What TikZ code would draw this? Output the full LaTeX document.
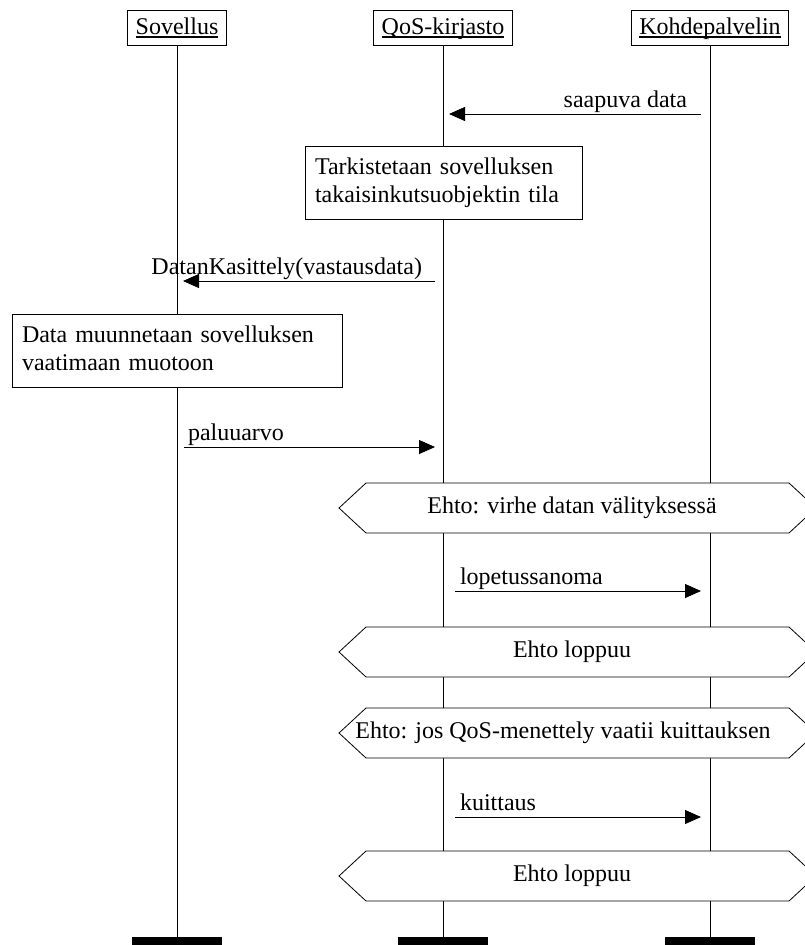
\documentclass[tikz,border=0pt]{standalone}
\usepackage{fontspec}
\setmainfont{Liberation Serif}
\usetikzlibrary{arrows.meta}
% underlined lifeline title with a heavier rule
\newcommand{\hdrtext}[1]{\leavevmode\setbox0\hbox{#1}\rlap{\vrule height -2pt depth 3.6pt width \wd0}\box0}
\begin{document}
\begin{tikzpicture}[x=1pt,y=-1pt,
  font=\fontsize{24}{28}\selectfont,
  every node/.style={inner sep=0pt, outer sep=0pt},
  hdr/.style={draw, fill=white, line width=0.8pt, minimum height=35pt,
    inner xsep=8pt, text height=18pt, text depth=5pt},
  lifeline/.style={line width=0.8pt},
  endbar/.style={fill=black, minimum width=90pt, minimum height=8pt},
  actbox/.style={draw, fill=white, line width=0.8pt, minimum height=73pt,
    inner xsep=10pt, align=left},
  cond/.style={draw, fill=white, line width=0.8pt},
  msg/.style={line width=0.8pt, -{Triangle[length=16pt,width=14pt]}}
]
\useasboundingbox (0,0) rectangle (805,945);
\begin{scope}
\clip (0,0) rectangle (805,945);

% objects and their lifelines
\node[hdr] (hA) at (177,27.5) {\hdrtext{Sovellus}};
\node[hdr] (hB) at (443,27.5) {\hdrtext{QoS-kirjasto}};
\node[hdr] (hC) at (710,27.5) {\hdrtext{Kohdepalvelin}};
\node[endbar] (eA) at (177,941) {};
\node[endbar] (eB) at (443,941) {};
\node[endbar] (eC) at (710,941) {};
\draw[lifeline] (hA.south) -- (eA.north);
\draw[lifeline] (hB.south) -- (eB.north);
\draw[lifeline] (hC.south) -- (eC.north);

% incoming data
\coordinate (m1s) at (701,114);
\coordinate (m1e) at (449,114);
\draw[msg] (m1s) -- (m1e);
\node[anchor=base east] (m1l) at (687,107) {saapuva data};

% local actions
\node[actbox, text width=257pt] (chk) at (443.5,183)
  {\strut Tarkistetaan sovelluksen\\takaisinkutsuobjektin tila\strut};

\coordinate (m2s) at (435,281);
\coordinate (m2e) at (183,281);
\draw[msg] (m2s) -- (m2e);
\node[anchor=base east] (m2l) at (422,274) {DatanKasittely(vastausdata)};

\node[actbox, text width=310pt] (conv) at (177,350.5)
  {\strut Data muunnetaan sovelluksen\\vaatimaan muotoon\strut};

\coordinate (m3s) at (184,447);
\coordinate (m3e) at (435,447);
\draw[msg] (m3s) -- (m3e);
\node[anchor=base west] (m3l) at (188,440) {paluuarvo};

% condition: transfer error
\draw[cond] (339,508) -- (366,483) -- (789,483) -- (816,508) -- (789,533) -- (366,533) -- cycle;
\node (c1) at (572,508) {Ehto: virhe datan välityksessä};

\coordinate (m4s) at (455,591);
\coordinate (m4e) at (701,591);
\draw[msg] (m4s) -- (m4e);
\node[anchor=base west] (m4l) at (460,584) {lopetussanoma};

\draw[cond] (339,652) -- (366,627) -- (789,627) -- (816,652) -- (789,677) -- (366,677) -- cycle;
\node (c2) at (572,652) {Ehto loppuu};

% condition: acknowledgement required
\draw[cond] (339,733) -- (366,708) -- (789,708) -- (816,733) -- (789,758) -- (366,758) -- cycle;
\node (c3) at (563,733) {Ehto: jos QoS-menettely vaatii kuittauksen};

\coordinate (m5s) at (455,817);
\coordinate (m5e) at (701,817);
\draw[msg] (m5s) -- (m5e);
\node[anchor=base west] (m5l) at (460,810) {kuittaus};

\draw[cond] (339,876) -- (366,851) -- (789,851) -- (816,876) -- (789,901) -- (366,901) -- cycle;
\node (c4) at (572,876) {Ehto loppuu};
\end{scope}
\end{tikzpicture}
\end{document}
